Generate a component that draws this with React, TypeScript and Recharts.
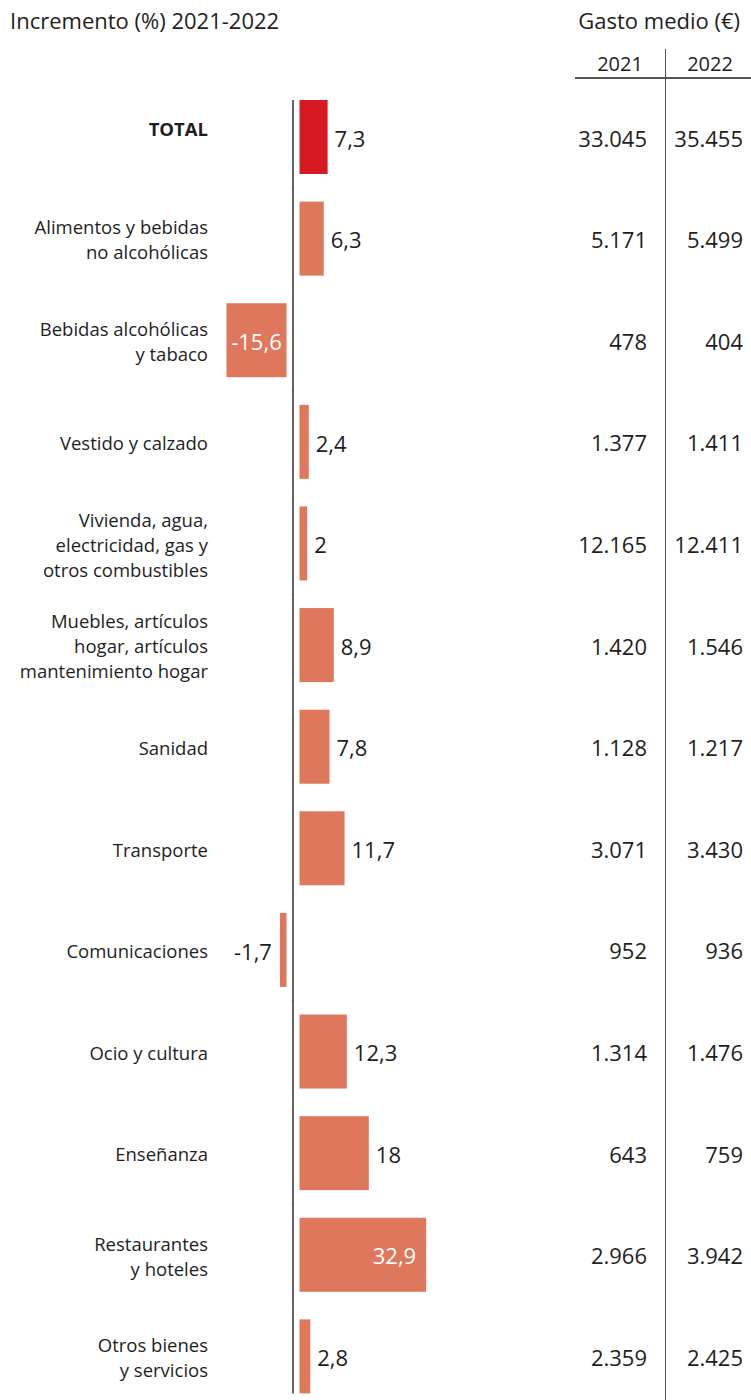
import { BarChart, Bar, XAxis, YAxis } from 'recharts';

const CATEGORIES = [
  'TOTAL',
  'Alimentos y bebidas\nno alcohólicas',
  'Bebidas alcohólicas\ny tabaco',
  'Vestido y calzado',
  'Vivienda, agua,\nelectricidad, gas y\notros combustibles',
  'Muebles, artículos\nhogar, artículos\nmantenimiento hogar',
  'Sanidad',
  'Transporte',
  'Comunicaciones',
  'Ocio y cultura',
  'Enseñanza',
  'Restaurantes\ny hoteles',
  'Otros bienes\ny servicios',
];
const INCREMENT = [7.3, 6.3, -15.6, 2.4, 2, 8.9, 7.8, 11.7, -1.7, 12.3, 18, 32.9, 2.8];
const SPEND_2021 = [33045, 5171, 478, 1377, 12165, 1420, 1128, 3071, 952, 1314, 643, 2966, 2359];
const SPEND_2022 = [35455, 5499, 404, 1411, 12411, 1546, 1217, 3430, 936, 1476, 759, 3942, 2425];

const FONT = "'Open Sans', sans-serif";
const INK = '#1e1e1e';
const TOTAL_COLOR = '#d71a21';
const BAR_COLOR = '#de775b';
const GAP = 6.5;

const data = CATEGORIES.map((name, i) => ({
  name,
  increment: INCREMENT[i],
}));

const fmtThousands = (v: number) => String(v).replace(/\B(?=(\d{3})+(?!\d))/g, '.');
const fmtDecimal = (v: number) => String(v).replace('.', ',');

function BarShape(props: any) {
  const { x, y, width, height, index, payload } = props;
  const v: number = payload.increment;
  const left = Math.min(x, x + width);
  const right = Math.max(x, x + width);
  const w = right - left;
  const zero = v >= 0 ? left : right;
  const bx = v >= 0 ? zero + GAP : zero - GAP - w;
  const fill = index === 0 ? TOTAL_COLOR : BAR_COLOR;
  const cy = y + height / 2 + 2;
  // long bars carry their label inside in white
  const inside = v > 25 || v < -10;
  const last = index === CATEGORIES.length - 1;

  let label;
  if (inside) {
    label = v >= 0 ? (
      <text x={bx + w - 10} y={cy} dy="0.35em" textAnchor="end" fill="#fff" fontSize={22} fontFamily={FONT}>
        {fmtDecimal(v)}
      </text>
    ) : (
      <text x={bx + w / 2} y={cy} dy="0.35em" textAnchor="middle" fill="#fff" fontSize={22} fontFamily={FONT}>
        {fmtDecimal(v)}
      </text>
    );
  } else {
    label = v >= 0 ? (
      <text x={bx + w + 7} y={cy} dy="0.35em" textAnchor="start" fill={INK} fontSize={22} fontFamily={FONT}>
        {fmtDecimal(v)}
      </text>
    ) : (
      <text x={bx - 8} y={cy} dy="0.35em" textAnchor="end" fill={INK} fontSize={22} fontFamily={FONT}>
        {fmtDecimal(v)}
      </text>
    );
  }

  return (
    <g>
      <line
        x1={zero}
        x2={zero}
        y1={index === 0 ? y : y - 14}
        y2={last ? y + height : y + height + 14}
        stroke="#333"
        strokeWidth={1.5}
      />
      <rect x={bx} y={y} width={w} height={height} fill={fill} />
      {label}
    </g>
  );
}

function RowTick(props: any) {
  const { y, payload } = props;
  const i = CATEGORIES.indexOf(payload.value);
  const lines: string[] = payload.value.split('\n');
  const isTotal = i === 0;
  const cy = isTotal ? y - 7 : y + 2;
  return (
    <g>
      <text
        x={208}
        textAnchor="end"
        fill={INK}
        fontSize={18.5}
        fontFamily={FONT}
        fontWeight={isTotal ? 700 : 400}
      >
        {lines.map((l, k) => (
          <tspan key={k} x={208} y={cy + (k - (lines.length - 1) / 2) * 25} dy="0.35em">
            {l}
          </tspan>
        ))}
      </text>
      <text x={647} y={y + 2} dy="0.35em" textAnchor="end" fill={INK} fontSize={22} fontFamily={FONT}>
        {fmtThousands(SPEND_2021[i])}
      </text>
      <text x={743} y={y + 2} dy="0.35em" textAnchor="end" fill={INK} fontSize={22} fontFamily={FONT}>
        {fmtThousands(SPEND_2022[i])}
      </text>
    </g>
  );
}

export default function App() {
  return (
    <div style={{ position: 'absolute', left: 0, top: 0, width: 751, height: 1400, background: '#fff', fontFamily: FONT, color: INK }}>
      <div style={{ position: 'absolute', left: 10, top: 6, fontSize: 22, lineHeight: '28px' }}>
        Incremento (%) 2021-2022
      </div>
      <div style={{ position: 'absolute', right: 11, top: 6, fontSize: 22, lineHeight: '28px' }}>
        Gasto medio (€)
      </div>
      <div style={{ position: 'absolute', left: 575, width: 90, top: 51, fontSize: 20, lineHeight: '26px', textAlign: 'center' }}>
        2021
      </div>
      <div style={{ position: 'absolute', left: 665, width: 90, top: 51, fontSize: 20, lineHeight: '26px', textAlign: 'center' }}>
        2022
      </div>
      <div style={{ position: 'absolute', left: 575, width: 176, top: 77, height: 1.5, background: '#555' }} />
      <div style={{ position: 'absolute', left: 664.5, width: 1.5, top: 49, height: 1351, background: '#555' }} />
      <div style={{ position: 'absolute', left: 0, top: 0 }}>
        <BarChart
          width={751}
          height={1400}
          data={data}
          layout="vertical"
          margin={{ top: 86, right: 304, bottom: -7, left: 0 }}
        >
          <XAxis type="number" domain={[-20, 40]} hide />
          <YAxis
            type="category"
            dataKey="name"
            width={216}
            axisLine={false}
            tickLine={false}
            interval={0}
            tick={<RowTick />}
          />
          <Bar dataKey="increment" barSize={74} isAnimationActive={false} shape={<BarShape />} />
        </BarChart>
      </div>
    </div>
  );
}
